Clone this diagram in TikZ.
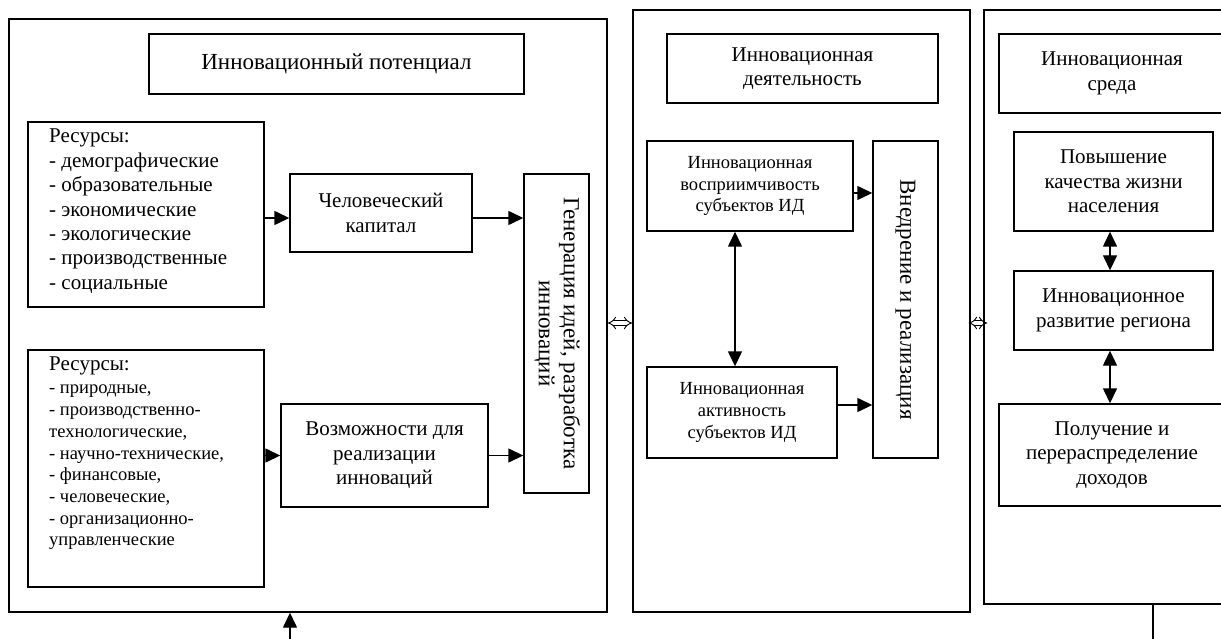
\documentclass[tikz,border=0pt]{standalone}
\usepackage{fontspec}
\setmainfont{Liberation Serif}
\usetikzlibrary{arrows.meta}

\newcommand{\titleFont}{\fontsize{23}{26}\selectfont}
\newcommand{\midFont}{\fontsize{21}{24.4}\selectfont}
\newcommand{\smallFont}{\fontsize{18.5}{21.7}\selectfont}

\begin{document}
\begin{tikzpicture}[x=1pt,y=-1pt,
    panelBox/.style={draw,line width=1.4pt,inner sep=0pt},
    textBox/.style={draw,line width=1.4pt,inner sep=0pt,align=center,font=\midFont},
    smallBox/.style={textBox,font=\smallFont},
    listText/.style={anchor=north west,inner sep=0pt,align=left},
    link/.style={line width=1.4pt,-{Triangle[length=15pt,width=14pt]}},
    biLink/.style={line width=1.4pt,{Triangle[length=15pt,width=14pt]}-{Triangle[length=15pt,width=14pt]}},
    hollowLink/.style={double,double distance=3.5pt,line width=0.9pt,{Implies}-{Implies}}]
\useasboundingbox (0,0) rectangle (1221,639);
\clip (0,0) rectangle (1221,639);

\node[panelBox,minimum width=598,minimum height=593] (pot) at (308,315.5) {};
\node[panelBox,minimum width=337,minimum height=602] (act) at (801.5,311) {};
\node[panelBox,minimum width=260,minimum height=594] (env) at (1114,307) {};

\node[textBox,font=\titleFont,minimum width=375,minimum height=60] (potTitle) at (336.5,64) {Инновационный потенциал};
\node[panelBox,minimum width=236,minimum height=185] (res1) at (146,214.5) {};
\node[listText,font=\midFont] (res1Text) at (49,129) {Ресурсы:\\- демографические\\- образовательные\\- экономические\\- экологические\\- производственные\\- социальные};
\node[textBox,minimum width=182,minimum height=78] (human) at (381,213) {Человеческий\\капитал};
\node[panelBox,minimum width=236,minimum height=237] (res2) at (146,468.5) {};
\node[listText,font=\smallFont] (res2Text) at (49,357) {{\midFont Ресурсы:}\\[1.3pt]- природные,\\- производственно-\\технологические,\\- научно-технические,\\- финансовые,\\- человеческие,\\- организационно-\\управленческие};
\node[textBox,minimum width=207,minimum height=103] (oppo) at (384.5,455.5) {Возможности для\\реализации\\инноваций};
\node[textBox,font=\titleFont,minimum width=65,minimum height=319] (gen) at (556.5,333.5) {\rotatebox{-90}{\begin{tabular}{@{}c@{}}Генерация идей, разработка\\[-1pt]инноваций\end{tabular}}};

\node[textBox,minimum width=271,minimum height=69] (actTitle) at (802.5,68.5) {Инновационная\\деятельность};
\node[smallBox,minimum width=206,minimum height=90] (recept) at (750,186) {Инновационная\\восприимчивость\\субъектов ИД};
\node[smallBox,minimum width=190,minimum height=91] (activ) at (742,412.5) {Инновационная\\активность\\субъектов ИД};
\node[textBox,font=\titleFont,minimum width=65,minimum height=317] (impl) at (905.5,299.5) {\rotatebox{-90}{Внедрение и реализация}};

\node[textBox,minimum width=226,minimum height=79] (envTitle) at (1112,73.5) {Инновационная\\среда};
\node[textBox,minimum width=199,minimum height=99] (life) at (1113.5,181.5) {Повышение\\качества жизни\\населения};
\node[textBox,minimum width=199,minimum height=79] (region) at (1113.5,310.5) {Инновационное\\развитие региона};
\node[textBox,minimum width=226,minimum height=102] (income) at (1112,455) {Получение и\\перераспределение\\доходов};

\coordinate (humanIn) at ([yshift=-5pt]human.west);
\coordinate (humanOut) at ([yshift=-5pt]human.east);
\coordinate (receptOut) at ([yshift=-7pt]recept.east);
\coordinate (activOut) at ([yshift=7.5pt]activ.east);
\draw[link] (res1.east |- humanIn) -- (humanIn);
\draw[link] (humanOut) -- (humanOut -| gen.west);
\draw[link] (res2.east |- oppo.west) -- (oppo.west);
\draw[link] (oppo.east) -- (oppo.east -| gen.west);
\draw[link] (receptOut) -- (receptOut -| impl.west);
\draw[link] (activOut) -- (activOut -| impl.west);
\coordinate (vAxis) at (735,0);
\coordinate (rAxis) at (1110,0);
\draw[biLink] (recept.south -| vAxis) -- (activ.north -| vAxis);
\draw[biLink] (life.south -| rAxis) -- (region.north -| rAxis);
\draw[biLink] (region.south -| rAxis) -- (income.north -| rAxis);
\coordinate (hAxis) at (0,323);
\draw[hollowLink] (pot.east |- hAxis) -- (act.west |- hAxis);
\draw[hollowLink,shorten <=-2pt,shorten >=-4pt] (act.east |- hAxis) -- (env.west |- hAxis);
\coordinate (inFlow) at (290,639);
\draw[link] (inFlow) -- (inFlow |- pot.south);
\coordinate (outFlow) at (1153,639);
\draw[line width=1.4pt] (outFlow |- env.south) -- (outFlow);
\end{tikzpicture}
\end{document}
